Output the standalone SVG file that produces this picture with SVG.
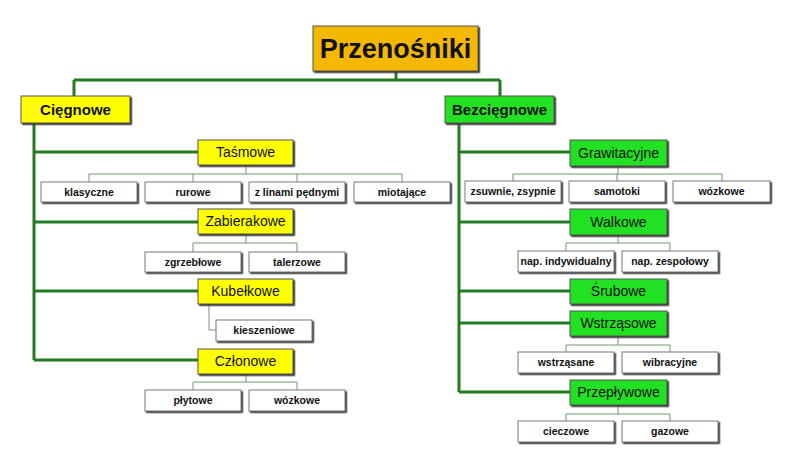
<svg xmlns="http://www.w3.org/2000/svg" width="792" height="473" viewBox="0 0 792 473">
<defs>
<filter id="sh" x="-10%" y="-10%" width="130%" height="140%"><feDropShadow dx="1.5" dy="1.5" stdDeviation="0.4" flood-color="#333"/></filter>
</defs>
<style>
.y{fill:#FFFF00;stroke:#555;stroke-width:1;filter:url(#sh)}
.g{fill:#22E022;stroke:#555;stroke-width:1;filter:url(#sh)}
.o{fill:#F5B800;stroke:#555;stroke-width:1;filter:url(#sh)}
.w{fill:#fff;stroke:#777;stroke-width:1;filter:url(#sh)}
.t{font-family:"Liberation Sans",Arial,sans-serif;text-anchor:middle;fill:#111}
.big{font-size:27px;font-weight:bold}
.top{font-size:15px;font-weight:bold}
.mid{font-size:14px}
.leaf{font-size:10.5px;font-weight:bold}
.thick{stroke:#237A23;stroke-width:3;fill:none}
.thin{stroke:#6E9A6E;stroke-width:1;fill:none}
</style>
<rect width="792" height="473" fill="#fff"/>
<g id="connectors">
<path class="thick" d="M396 71V80M74 80H500M74 80V96M500 80V96"/>
<path class="thick" d="M34 123V360M34 152H198M34 222H198M34 291H198M34 360H198"/>
<path class="thick" d="M459 123V392M459 152H570M459 222H570M459 291H570M459 323H570M459 392H570"/>
<path class="thin" d="M246 165V174M89 174H402M89 174V182M193 174V182M297 174V182M402 174V182"/>
<path class="thin" d="M246 234V243M193 243H297M193 243V252M297 243V252"/>
<path class="thin" d="M209 304V330H216"/>
<path class="thin" d="M246 374V382M193 382H297M193 382V390M297 382V390"/>
<path class="thin" d="M618 166V174M513 174H722M513 174V181M617 174V181M722 174V181"/>
<path class="thin" d="M618 235V243M566 243H670M566 243V251M670 243V251"/>
<path class="thin" d="M618 336V345M566 345H670M566 345V352M670 345V352"/>
<path class="thin" d="M618 405V414M566 414H670M566 414V421M670 414V421"/>
</g>
<g id="przenosniki"><rect class="o" x="313" y="26" width="165" height="45"/><text class="t big" x="395.5" y="58">Przenośniki</text></g>
<g id="ciegnowe"><rect class="y" x="21" y="96" width="109" height="27"/><text class="t top" x="75.5" y="115">Cięgnowe</text></g>
<g id="bezciegnowe"><rect class="g" x="445" y="96" width="109" height="27"/><text class="t top" x="499.5" y="115">Bezcięgnowe</text></g>
<g id="tasmowe"><rect class="y" x="198" y="140" width="95" height="25"/><text class="t mid" x="245.5" y="157">Taśmowe</text></g>
<g id="klasyczne"><rect class="w" x="41" y="182" width="96" height="20"/><text class="t leaf" x="89" y="196">klasyczne</text></g>
<g id="rurowe"><rect class="w" x="145" y="182" width="96" height="20"/><text class="t leaf" x="193" y="196">rurowe</text></g>
<g id="zlinami"><rect class="w" x="249" y="182" width="96" height="20"/><text class="t leaf" x="297" y="196">z linami pędnymi</text></g>
<g id="miotajace"><rect class="w" x="354" y="182" width="96" height="20"/><text class="t leaf" x="402" y="196">miotające</text></g>
<g id="zabierakowe"><rect class="y" x="198" y="209" width="95" height="25"/><text class="t mid" x="245.5" y="226">Zabierakowe</text></g>
<g id="zgrzeblowe"><rect class="w" x="145" y="252" width="96" height="20"/><text class="t leaf" x="193" y="266">zgrzebłowe</text></g>
<g id="talerzowe"><rect class="w" x="249" y="252" width="96" height="20"/><text class="t leaf" x="297" y="266">talerzowe</text></g>
<g id="kubelkowe"><rect class="y" x="198" y="279" width="95" height="25"/><text class="t mid" x="245.5" y="296">Kubełkowe</text></g>
<g id="kieszeniowe"><rect class="w" x="216" y="320" width="96" height="21"/><text class="t leaf" x="264" y="334">kieszeniowe</text></g>
<g id="czlonowe"><rect class="y" x="198" y="349" width="95" height="25"/><text class="t mid" x="245.5" y="366">Członowe</text></g>
<g id="plytowe"><rect class="w" x="145" y="390" width="96" height="21"/><text class="t leaf" x="193" y="404">płytowe</text></g>
<g id="wozkowe1"><rect class="w" x="249" y="390" width="96" height="21"/><text class="t leaf" x="297" y="404">wózkowe</text></g>
<g id="grawitacyjne"><rect class="g" x="570" y="140" width="97" height="26"/><text class="t mid" x="618.5" y="158">Grawitacyjne</text></g>
<g id="zsuwnie"><rect class="w" x="465" y="181" width="96" height="21"/><text class="t leaf" x="513" y="195">zsuwnie, zsypnie</text></g>
<g id="samotoki"><rect class="w" x="569" y="181" width="96" height="21"/><text class="t leaf" x="617" y="195">samotoki</text></g>
<g id="wozkowe2"><rect class="w" x="673" y="181" width="97" height="21"/><text class="t leaf" x="721.5" y="195">wózkowe</text></g>
<g id="walkowe"><rect class="g" x="570" y="209" width="97" height="26"/><text class="t mid" x="618.5" y="227">Walkowe</text></g>
<g id="napind"><rect class="w" x="518" y="251" width="96" height="21"/><text class="t leaf" x="566" y="265">nap. indywidualny</text></g>
<g id="napzesp"><rect class="w" x="622" y="251" width="96" height="21"/><text class="t leaf" x="670" y="265">nap. zespołowy</text></g>
<g id="srubowe"><rect class="g" x="570" y="279" width="97" height="25"/><text class="t mid" x="618.5" y="296">Śrubowe</text></g>
<g id="wstrzasowe"><rect class="g" x="570" y="311" width="97" height="25"/><text class="t mid" x="618.5" y="328">Wstrząsowe</text></g>
<g id="wstrzasane"><rect class="w" x="518" y="352" width="96" height="21"/><text class="t leaf" x="566" y="366">wstrząsane</text></g>
<g id="wibracyjne"><rect class="w" x="622" y="352" width="96" height="21"/><text class="t leaf" x="670" y="366">wibracyjne</text></g>
<g id="przeplywowe"><rect class="g" x="570" y="380" width="97" height="25"/><text class="t mid" x="618.5" y="397">Przepływowe</text></g>
<g id="cieczowe"><rect class="w" x="518" y="421" width="96" height="21"/><text class="t leaf" x="566" y="435">cieczowe</text></g>
<g id="gazowe"><rect class="w" x="622" y="421" width="96" height="21"/><text class="t leaf" x="670" y="435">gazowe</text></g>
</svg>
